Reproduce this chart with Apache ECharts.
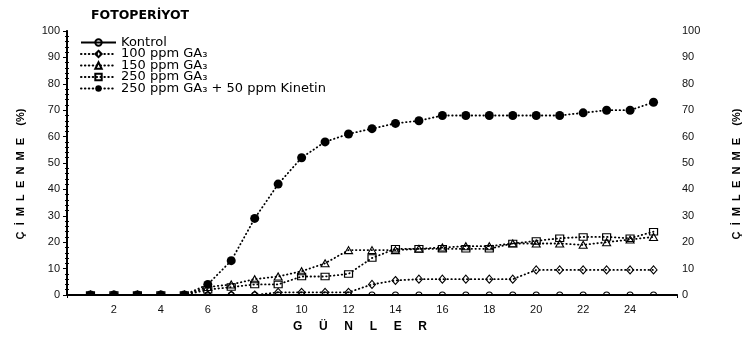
<!DOCTYPE html>
<html>
<head>
<meta charset="utf-8">
<script src="https://cdn.jsdelivr.net/npm/echarts@6/dist/echarts.min.js"></script>
<style>html,body{margin:0;padding:0;background:#fff}#c{width:752px;height:338px}</style>
</head>
<body>
<div id="c"></div>
<script>
const days = [1,2,3,4,5,6,7,8,9,10,11,12,13,14,15,16,17,18,19,20,21,22,23,24,25];
const kontrol = [0,0,0,0,0,0,0,0,0,0,0,0,0,0,0,0,0,0,0,0,0,0,0,0,0];
const ga100 = [0,0,0,0,0,0,0,0,1,1,1,1,4,5.5,6,6,6,6,6,9.5,9.5,9.5,9.5,9.5,9.5];
const ga150 = [0,0,0,0,0,3,4,6,7,9,12,17,17,17,17.5,18,18.5,18.5,19.5,19.5,19.5,19,20,21,22];
const ga250 = [0,0,0,0,0,2,3,4,4,7,7,8,14,17.5,17.5,17.5,17.5,17.5,19.5,20.5,21.5,22,22,21.5,24];
const kinetin = [0,0,0,0,0,4,13,29,42,52,58,61,63,65,66,68,68,68,68,68,68,69,70,70,73];
const seriesNames = ['Kontrol','100 ppm GA₃','150 ppm GA₃','250 ppm GA₃','250 ppm GA₃ + 50 ppm Kinetin'];
const xTickLabels = [2,4,6,8,10,12,14,16,18,20,22,24];
const yTickLabels = [0,10,20,30,40,50,60,70,80,90,100];
const title = 'FOTOPERİYOT';
const xName = 'G     Ü     N     L     E     R';
const yName = 'Ç  İ  M  L  E  N  M  E    (%)';

const FONT = 'Liberation Sans, Arial, sans-serif';
const WIDE = 'DejaVu Sans, sans-serif';
const pair = arr => days.map((d, i) => [d, arr[i]]);
const dotted = {color: '#000', width: 1.8, type: [0.5, 3.4], cap: 'round'};
const hollow = {color: 'rgba(255,255,255,0)', borderColor: '#000', borderWidth: 1.1};

const chart = echarts.init(document.getElementById('c'), null, {renderer: 'canvas'});
const yBase = {type: 'value', min: 0, max: 100, interval: 10, splitLine: {show: false}};
chart.setOption({
  animation: false,
  backgroundColor: '#fff',
  title: {text: title, left: 86, top: 4, textStyle: {fontFamily: WIDE, fontSize: 12.5, fontWeight: 'bold', color: '#000'}},
  grid: {left: 67, right: 75, top: 31, bottom: 41},
  legend: {
    orient: 'vertical', left: 75, top: 31, itemWidth: 35, itemHeight: 8, itemGap: -1.5,
    textStyle: {fontFamily: WIDE, fontSize: 13, color: '#000', lineHeight: 11},
    data: seriesNames
  },
  xAxis: [
    {type: 'value', min: 0, max: 26, interval: 2, position: 'bottom',
     name: xName, nameLocation: 'middle', nameGap: 26,
     nameTextStyle: {fontFamily: FONT, fontSize: 12, fontWeight: 'bold', color: '#000', padding: [0, 24, 0, 0]},
     axisLine: {lineStyle: {color: '#000', width: 2}},
     axisTick: {show: false},
     axisLabel: {margin: 9, fontFamily: FONT, fontSize: 11, color: '#111',
                 formatter: v => xTickLabels.indexOf(v) >= 0 ? String(v) : ''},
     splitLine: {show: false}},
    {type: 'value', min: 0, max: 26, interval: 1, position: 'top',
     axisLine: {lineStyle: {color: '#000', width: 1.5}},
     axisTick: {inside: true, length: 3, lineStyle: {color: '#000'}},
     axisLabel: {show: false}, splitLine: {show: false}}
  ],
  yAxis: [
    Object.assign({}, yBase, {position: 'left',
     name: yName, nameLocation: 'middle', nameGap: 41, nameRotate: 90,
     nameTextStyle: {fontFamily: FONT, fontSize: 11, fontWeight: 'bold', color: '#000', padding: [0, 22, 0, 0]},
     axisLine: {show: true, lineStyle: {color: '#000', width: 2}},
     axisTick: {show: true, inside: false, length: 3, lineStyle: {color: '#000'}},
     axisLabel: {margin: 7, fontFamily: FONT, fontSize: 11, color: '#111',
                 formatter: v => yTickLabels.indexOf(v) >= 0 ? String(v) : ''}}),
    Object.assign({}, yBase, {position: 'right',
     name: yName, nameLocation: 'middle', nameGap: 54, nameRotate: 90,
     nameTextStyle: {fontFamily: FONT, fontSize: 11, fontWeight: 'bold', color: '#000', padding: [0, 22, 0, 0]},
     axisLine: {show: true, lineStyle: {color: '#000', width: 1.5}},
     axisTick: {show: true, inside: true, length: 4, lineStyle: {color: '#000'}},
     minorTick: {show: true, splitNumber: 5, length: 2, lineStyle: {color: '#000'}},
     axisLabel: {margin: 5, fontFamily: FONT, fontSize: 11, color: '#111',
                 formatter: v => yTickLabels.indexOf(v) >= 0 ? String(v) : ''}}),
    Object.assign({}, yBase, {position: 'left',
     axisLine: {show: false},
     axisTick: {show: false, inside: true},
     minorTick: {show: true, splitNumber: 5, length: 2, lineStyle: {color: '#000'}},
     axisLabel: {show: false}})
  ],
  series: [
    {name: seriesNames[0], type: 'line', data: pair(kontrol), symbol: 'circle', symbolSize: 6,
     lineStyle: {color: '#000', width: 1.6}, itemStyle: hollow, z: 2},
    {name: seriesNames[1], type: 'line', data: pair(ga100), symbol: 'diamond', symbolSize: [7, 8],
     lineStyle: dotted, itemStyle: hollow, z: 3},
    {name: seriesNames[2], type: 'line', data: pair(ga150), symbol: 'triangle', symbolSize: [8, 7],
     lineStyle: dotted, itemStyle: hollow, z: 4},
    {name: seriesNames[3], type: 'line', data: pair(ga250), symbol: 'rect', symbolSize: [8, 6.5],
     lineStyle: dotted, itemStyle: hollow, z: 5},
    {name: seriesNames[4], type: 'line', data: pair(kinetin), symbol: 'circle', symbolSize: 9,
     lineStyle: dotted, itemStyle: {color: '#000'}, z: 6}
  ]
});

// mask the part of the markers that falls below the x axis line (as in the reference)
const p0 = chart.convertToPixel({xAxisIndex: 0, yAxisIndex: 0}, [0, 0]);
const p1 = chart.convertToPixel({xAxisIndex: 0, yAxisIndex: 0}, [26, 0]);
chart.setOption({
  graphic: [{type: 'rect', z: 100, silent: true,
    shape: {x: p0[0] + 1, y: p0[1] + 1, width: p1[0] - p0[0] - 2, height: 7},
    style: {fill: '#fff'}}]
});
</script>
</body>
</html>
